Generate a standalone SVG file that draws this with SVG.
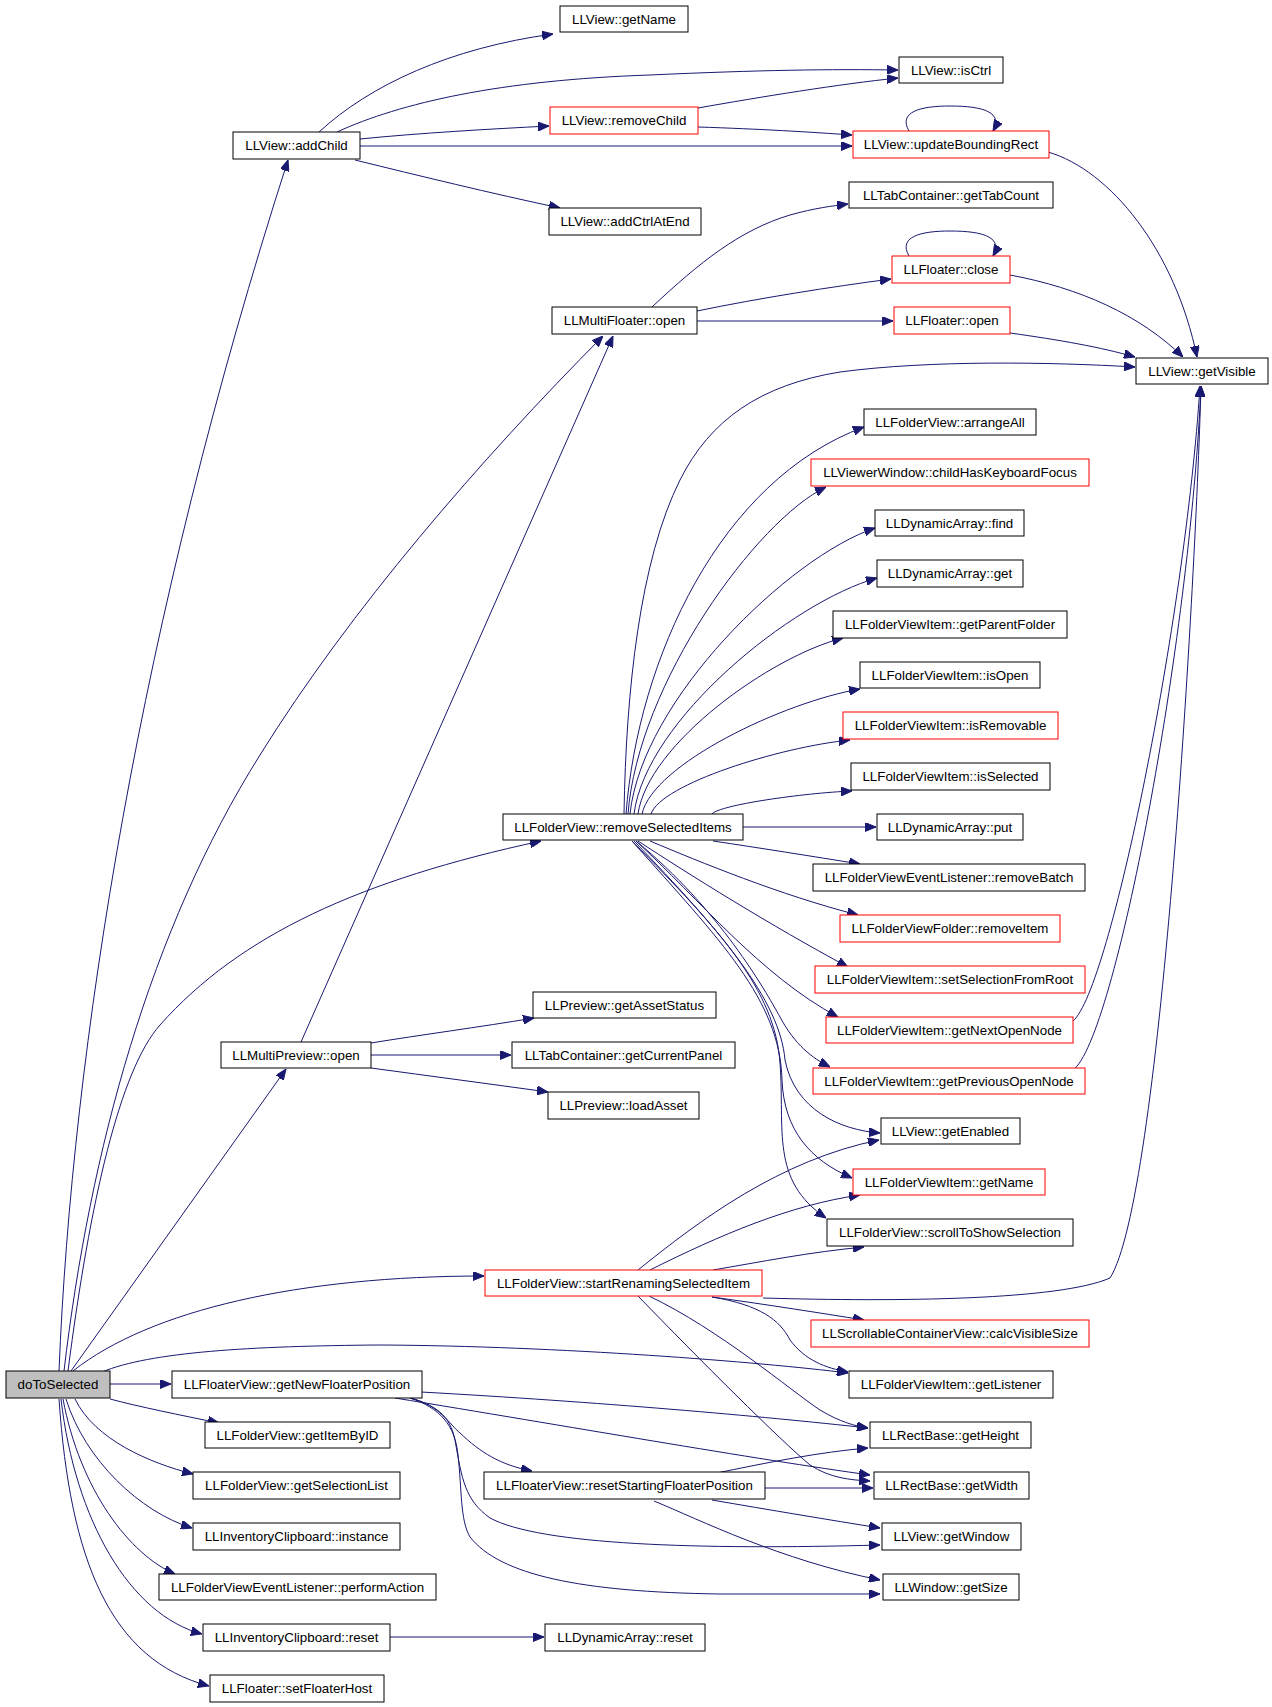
<svg xmlns="http://www.w3.org/2000/svg" width="1272" height="1707" viewBox="0 0 1272 1707">
<style>
.n rect{fill:#fff;stroke:#000;stroke-width:1}
.r rect{stroke:#f00}
.g rect{fill:#bfbfbf}
text{font-family:"Liberation Sans",Arial,sans-serif;font-size:13.33px;text-anchor:middle;fill:#000}
#edges path{fill:none;stroke:#191970;stroke-width:1;marker-end:url(#a)}
</style>
<defs>
<marker id="a" markerWidth="11" markerHeight="9" refX="11" refY="4.5" orient="auto" markerUnits="userSpaceOnUse">
<path d="M0,0 L11,4.5 L0,9 z" fill="#191970" stroke="#191970" stroke-width="1"/>
</marker>
</defs>
<rect x="0" y="0" width="1272" height="1707" fill="#fff"/>
<g id="edges">
<path d="M319,132 C370,85 450,48 553,34"/>
<path d="M337,132 C400,103 500,80 650,75 C760,70 830,69 898,70"/>
<path d="M360,139 C420,133 490,129 549,126"/>
<path d="M360,146 L852,146"/>
<path d="M355,160 C420,176 490,193 560,208"/>
<path d="M698,108 C760,97 840,84 898,78"/>
<path d="M698,127 C760,129 810,132 852,135"/>
<path d="M909,131 C898,112 920,106 950,106 C985,106 1003,113 993,131"/>
<path d="M1048,152 C1110,170 1175,250 1197,357"/>
<path d="M652,307 C700,262 740,230 790,215 C815,208 832,206 848,204"/>
<path d="M697,311 C760,298 830,287 891,279"/>
<path d="M697,321 L893,321"/>
<path d="M909,256 C898,237 920,231 950,231 C985,231 1003,238 993,256"/>
<path d="M1010,275 C1080,288 1140,315 1183,357"/>
<path d="M1010,333 C1060,340 1100,347 1135,357"/>
<path d="M624,814 C626,690 640,560 680,480 C710,420 760,385 840,372 C930,360 1050,362 1135,367"/>
<path d="M626,814 C638,659 720,480 864,427"/>
<path d="M628,814 C638,683 757,520 826,487"/>
<path d="M630,814 C642,700 789,557 875,528"/>
<path d="M634,814 C646,720 792,602 877,578"/>
<path d="M638,814 C648,744 771,656 843,638"/>
<path d="M642,814 C653,764 784,702 860,689"/>
<path d="M651,814 C661,784 780,747 850,740"/>
<path d="M712,814 C719,805 803,793 852,791"/>
<path d="M743,827 L876,827"/>
<path d="M713,841 C760,848 810,856 860,864"/>
<path d="M650,841 C700,862 780,895 858,915"/>
<path d="M638,841 C690,875 770,925 848,967"/>
<path d="M636,841 C700,900 760,975 838,1017"/>
<path d="M636,841 C720,910 765,990 780,1017 C795,1045 812,1058 830,1067"/>
<path d="M634,841 C720,930 780,1000 785,1060 C795,1110 840,1130 880,1133"/>
<path d="M632,841 C720,940 780,1000 782,1080 C784,1130 810,1160 852,1178"/>
<path d="M632,841 C720,930 775,990 780,1063 C785,1130 770,1180 826,1218"/>
<path d="M1073,1021 C1110,990 1185,620 1200,386"/>
<path d="M1073,1070 C1115,1040 1190,640 1201,386"/>
<path d="M371,1043 C420,1035 480,1027 534,1018"/>
<path d="M371,1055 L511,1055"/>
<path d="M371,1068 C430,1076 490,1084 548,1092"/>
<path d="M301,1042 L613,336"/>
<path d="M638,1270 C700,1220 780,1160 879,1140"/>
<path d="M650,1270 C720,1235 790,1205 860,1195"/>
<path d="M713,1270 C760,1262 810,1252 864,1247"/>
<path d="M763,1298 C900,1302 1060,1300 1110,1278 C1160,1200 1195,600 1201,386"/>
<path d="M712,1297 C770,1305 820,1313 864,1320"/>
<path d="M712,1297 C760,1305 780,1320 790,1340 C805,1360 825,1368 848,1372"/>
<path d="M649,1296 C720,1330 790,1390 820,1410 C840,1422 855,1426 868,1428"/>
<path d="M638,1296 C700,1360 780,1440 810,1465 C830,1478 850,1480 870,1481"/>
<path d="M421,1392 C600,1402 760,1416 868,1428"/>
<path d="M395,1398 C560,1425 760,1460 870,1475"/>
<path d="M410,1398 C440,1405 450,1425 460,1433 C480,1452 500,1465 532,1471"/>
<path d="M410,1398 C435,1405 450,1415 455,1440 C462,1480 465,1500 490,1518 C540,1545 700,1550 880,1545"/>
<path d="M410,1398 C440,1408 455,1425 458,1455 C462,1490 460,1520 470,1537 C500,1575 580,1592 720,1594 L880,1594"/>
<path d="M712,1474 C770,1462 820,1452 868,1448"/>
<path d="M765,1488 L873,1488"/>
<path d="M712,1500 C770,1510 830,1520 880,1528"/>
<path d="M654,1501 C700,1520 780,1560 880,1580"/>
<path d="M59,1371 C72,1050 140,620 288,160"/>
<path d="M64,1371 C90,1150 150,930 260,755 C350,610 480,460 603,336"/>
<path d="M68,1371 C90,1200 120,1070 160,1025 C240,935 360,880 541,841"/>
<path d="M71,1371 L286,1069"/>
<path d="M73,1371 C150,1310 300,1276 484,1276"/>
<path d="M102,1372 C150,1352 250,1346 380,1345 C560,1346 760,1362 848,1373"/>
<path d="M110,1384 L171,1384"/>
<path d="M110,1399 C140,1407 180,1415 219,1423"/>
<path d="M75,1399 C95,1440 150,1463 193,1474"/>
<path d="M66,1399 C85,1460 140,1512 192,1528"/>
<path d="M63,1399 C80,1490 130,1555 175,1574"/>
<path d="M61,1399 C75,1520 130,1615 202,1634"/>
<path d="M59,1399 C70,1560 110,1660 209,1686"/>
<path d="M390,1637 L544,1637"/>
</g>
<g id="n1" class="n"><rect x="560" y="6" width="128" height="26"/><text x="624" y="23.6">LLView::getName</text></g>
<g id="n2" class="n"><rect x="899" y="57" width="104" height="26"/><text x="951" y="74.6">LLView::isCtrl</text></g>
<g id="n3" class="n"><rect x="233" y="132" width="127" height="27"/><text x="296.5" y="150.1">LLView::addChild</text></g>
<g id="n4" class="n r"><rect x="550" y="107" width="148" height="27"/><text x="624" y="125.1">LLView::removeChild</text></g>
<g id="n5" class="n r"><rect x="853" y="131" width="196" height="27"/><text x="951" y="149.1">LLView::updateBoundingRect</text></g>
<g id="n6" class="n"><rect x="849" y="182" width="204" height="26"/><text x="951" y="199.6">LLTabContainer::getTabCount</text></g>
<g id="n7" class="n"><rect x="549" y="208" width="152" height="27"/><text x="625" y="226.1">LLView::addCtrlAtEnd</text></g>
<g id="n8" class="n r"><rect x="892" y="256" width="118" height="27"/><text x="951" y="274.1">LLFloater::close</text></g>
<g id="n9" class="n"><rect x="552" y="307" width="145" height="27"/><text x="624.5" y="325.1">LLMultiFloater::open</text></g>
<g id="n10" class="n r"><rect x="894" y="307" width="116" height="27"/><text x="952" y="325.1">LLFloater::open</text></g>
<g id="n11" class="n"><rect x="1136" y="358" width="132" height="26"/><text x="1202" y="375.6">LLView::getVisible</text></g>
<g id="n12" class="n"><rect x="864" y="409" width="172" height="26"/><text x="950" y="426.6">LLFolderView::arrangeAll</text></g>
<g id="n13" class="n r"><rect x="811" y="459" width="278" height="27"/><text x="950" y="477.1">LLViewerWindow::childHasKeyboardFocus</text></g>
<g id="n14" class="n"><rect x="875" y="510" width="149" height="26"/><text x="949.5" y="527.6">LLDynamicArray::find</text></g>
<g id="n15" class="n"><rect x="877" y="560" width="146" height="27"/><text x="950" y="578.1">LLDynamicArray::get</text></g>
<g id="n16" class="n"><rect x="833" y="611" width="234" height="27"/><text x="950" y="629.1">LLFolderViewItem::getParentFolder</text></g>
<g id="n17" class="n"><rect x="860" y="662" width="180" height="26"/><text x="950" y="679.6">LLFolderViewItem::isOpen</text></g>
<g id="n18" class="n r"><rect x="843" y="712" width="215" height="27"/><text x="950.5" y="730.1">LLFolderViewItem::isRemovable</text></g>
<g id="n19" class="n"><rect x="851" y="763" width="199" height="27"/><text x="950.5" y="781.1">LLFolderViewItem::isSelected</text></g>
<g id="n20" class="n"><rect x="503" y="814" width="240" height="26"/><text x="623" y="831.6">LLFolderView::removeSelectedItems</text></g>
<g id="n21" class="n"><rect x="877" y="814" width="146" height="26"/><text x="950" y="831.6">LLDynamicArray::put</text></g>
<g id="n22" class="n"><rect x="813" y="864" width="272" height="27"/><text x="949" y="882.1">LLFolderViewEventListener::removeBatch</text></g>
<g id="n23" class="n r"><rect x="840" y="915" width="220" height="27"/><text x="950" y="933.1">LLFolderViewFolder::removeItem</text></g>
<g id="n24" class="n r"><rect x="815" y="966" width="270" height="27"/><text x="950" y="984.1">LLFolderViewItem::setSelectionFromRoot</text></g>
<g id="n25" class="n"><rect x="533" y="992" width="183" height="26"/><text x="624.5" y="1009.6">LLPreview::getAssetStatus</text></g>
<g id="n26" class="n r"><rect x="826" y="1017" width="247" height="26"/><text x="949.5" y="1034.6">LLFolderViewItem::getNextOpenNode</text></g>
<g id="n27" class="n"><rect x="221" y="1042" width="150" height="26"/><text x="296" y="1059.6">LLMultiPreview::open</text></g>
<g id="n28" class="n"><rect x="512" y="1042" width="223" height="26"/><text x="623.5" y="1059.6">LLTabContainer::getCurrentPanel</text></g>
<g id="n29" class="n r"><rect x="813" y="1068" width="272" height="26"/><text x="949" y="1085.6">LLFolderViewItem::getPreviousOpenNode</text></g>
<g id="n30" class="n"><rect x="548" y="1092" width="151" height="27"/><text x="623.5" y="1110.1">LLPreview::loadAsset</text></g>
<g id="n31" class="n"><rect x="881" y="1118" width="139" height="26"/><text x="950.5" y="1135.6">LLView::getEnabled</text></g>
<g id="n32" class="n r"><rect x="853" y="1169" width="192" height="26"/><text x="949" y="1186.6">LLFolderViewItem::getName</text></g>
<g id="n33" class="n"><rect x="827" y="1219" width="246" height="27"/><text x="950" y="1237.1">LLFolderView::scrollToShowSelection</text></g>
<g id="n34" class="n r"><rect x="485" y="1270" width="277" height="26"/><text x="623.5" y="1287.6">LLFolderView::startRenamingSelectedItem</text></g>
<g id="n35" class="n r"><rect x="811" y="1320" width="278" height="27"/><text x="950" y="1338.1">LLScrollableContainerView::calcVisibleSize</text></g>
<g id="n36" class="n g"><rect x="6" y="1371" width="104" height="27"/><text x="58" y="1389.1">doToSelected</text></g>
<g id="n37" class="n"><rect x="172" y="1371" width="250" height="27"/><text x="297" y="1389.1">LLFloaterView::getNewFloaterPosition</text></g>
<g id="n38" class="n"><rect x="849" y="1371" width="204" height="27"/><text x="951" y="1389.1">LLFolderViewItem::getListener</text></g>
<g id="n39" class="n"><rect x="205" y="1422" width="185" height="26"/><text x="297.5" y="1439.6">LLFolderView::getItemByID</text></g>
<g id="n40" class="n"><rect x="870" y="1422" width="161" height="26"/><text x="950.5" y="1439.6">LLRectBase::getHeight</text></g>
<g id="n41" class="n"><rect x="193" y="1472" width="207" height="27"/><text x="296.5" y="1490.1">LLFolderView::getSelectionList</text></g>
<g id="n42" class="n"><rect x="484" y="1472" width="281" height="27"/><text x="624.5" y="1490.1">LLFloaterView::resetStartingFloaterPosition</text></g>
<g id="n43" class="n"><rect x="874" y="1472" width="155" height="27"/><text x="951.5" y="1490.1">LLRectBase::getWidth</text></g>
<g id="n44" class="n"><rect x="193" y="1523" width="207" height="27"/><text x="296.5" y="1541.1">LLInventoryClipboard::instance</text></g>
<g id="n45" class="n"><rect x="882" y="1523" width="139" height="27"/><text x="951.5" y="1541.1">LLView::getWindow</text></g>
<g id="n46" class="n"><rect x="159" y="1574" width="277" height="26"/><text x="297.5" y="1591.6">LLFolderViewEventListener::performAction</text></g>
<g id="n47" class="n"><rect x="883" y="1574" width="136" height="26"/><text x="951" y="1591.6">LLWindow::getSize</text></g>
<g id="n48" class="n"><rect x="203" y="1624" width="187" height="27"/><text x="296.5" y="1642.1">LLInventoryClipboard::reset</text></g>
<g id="n49" class="n"><rect x="545" y="1624" width="160" height="27"/><text x="625" y="1642.1">LLDynamicArray::reset</text></g>
<g id="n50" class="n"><rect x="210" y="1675" width="174" height="27"/><text x="297" y="1693.1">LLFloater::setFloaterHost</text></g>
</svg>
